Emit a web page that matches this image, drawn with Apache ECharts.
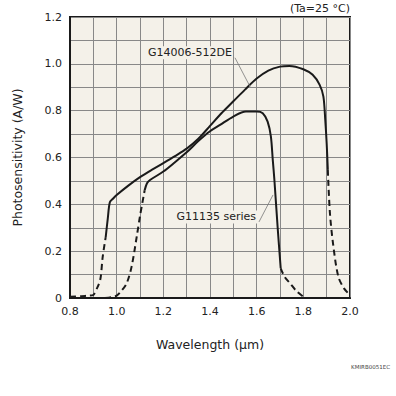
<!DOCTYPE html>
<html>
<head>
<meta charset="utf-8">
<script src="https://cdn.jsdelivr.net/npm/echarts@6/dist/echarts.min.js"></script>
<style>
  html, body { margin: 0; padding: 0; background: #fff; }
  #chart { width: 396px; height: 396px; }
</style>
</head>
<body>
<div id="chart"></div>
<script>
// G14006-512DE: dashed rise, solid body, dashed fall
var wlA_rise = [0.80, 0.85, 0.88, 0.90, 0.915, 0.93, 0.94, 0.953];
var valA_rise = [0.005, 0.008, 0.01, 0.013, 0.04, 0.08, 0.175, 0.26];
var wlA_body = [0.953, 0.962, 0.971, 0.985, 1.0, 1.05, 1.1, 1.15, 1.2, 1.25, 1.3, 1.35, 1.4, 1.45, 1.5, 1.55, 1.6, 1.65, 1.7, 1.74, 1.8, 1.84, 1.87, 1.886, 1.894, 1.9, 1.905];
var valA_body = [0.26, 0.34, 0.41, 0.425, 0.44, 0.48, 0.516, 0.547, 0.576, 0.606, 0.638, 0.68, 0.735, 0.79, 0.84, 0.89, 0.937, 0.971, 0.988, 0.991, 0.977, 0.953, 0.91, 0.86, 0.76, 0.661, 0.547];
var wlA_fall = [1.905, 1.914, 1.929, 1.95, 1.975, 2.0];
var valA_fall = [0.547, 0.362, 0.219, 0.091, 0.04, 0.013];

// G11135 series
var wlB_rise = [0.95, 0.98, 1.0, 1.02, 1.043, 1.064, 1.086, 1.1, 1.12];
var valB_rise = [0.0, 0.004, 0.01, 0.03, 0.063, 0.134, 0.262, 0.35, 0.46];
var wlB_body = [1.12, 1.13, 1.143, 1.2, 1.25, 1.3, 1.35, 1.4, 1.443, 1.5, 1.554, 1.6, 1.626, 1.647, 1.661, 1.669, 1.676, 1.69, 1.703];
var valB_body = [0.46, 0.49, 0.504, 0.54, 0.58, 0.622, 0.67, 0.712, 0.739, 0.775, 0.796, 0.796, 0.789, 0.753, 0.689, 0.59, 0.504, 0.3, 0.127];
var wlB_fall = [1.703, 1.72, 1.743, 1.77, 1.8];
var valB_fall = [0.127, 0.09, 0.063, 0.03, 0.005];

// leader lines for the curve labels
var leaderA = [[1.507, 1.026], [1.572, 0.902]];
var leaderB = [[1.61, 0.325], [1.67, 0.44]];

var ink = '#222';
var font = 'DejaVu Sans';

function pairs(xs, ys) {
  return xs.map(function(x, i) { return [x, ys[i]]; });
}

function curve(xs, ys, dashed) {
  return {
    type: 'line',
    data: pairs(xs, ys),
    showSymbol: false,
    smooth: 0.3,
    lineStyle: { color: '#1a1a1a', width: 2, type: dashed ? [6, 4] : 'solid' },
    silent: true
  };
}

function leader(pts, text) {
  return {
    type: 'line',
    data: [
      { value: pts[0], label: { show: true, formatter: text, position: 'left', distance: 2, offset: [0, -5],
        color: ink, fontFamily: font, fontSize: 11, backgroundColor: '#f4f1e9', padding: [1, 1] } },
      { value: pts[1] }
    ],
    showSymbol: true,
    symbolSize: 0,
    lineStyle: { color: '#777', width: 0.8 },
    silent: true,
    z: 5
  };
}

var chart = echarts.init(document.getElementById('chart'), null, { renderer: 'svg' });
chart.setOption({
  animation: false,
  backgroundColor: '#fff',
  grid: { left: 70, right: 46, top: 17, bottom: 98, show: true, backgroundColor: '#f4f1e9', borderColor: '#1a1a1a', borderWidth: 2 },
  xAxis: {
    type: 'value', min: 0.8, max: 2.0, interval: 0.1,
    name: 'Wavelength (µm)', nameLocation: 'middle', nameGap: 40,
    nameTextStyle: { color: ink, fontFamily: font, fontSize: 12.5 },
    axisLine: { lineStyle: { color: '#1a1a1a', width: 2 } },
    axisTick: { show: false },
    axisLabel: {
      color: ink, fontFamily: font, fontSize: 11, margin: 8,
      formatter: function(v) { return Math.round(v * 10) % 2 === 0 ? v.toFixed(1) : ''; }
    },
    splitLine: { lineStyle: { color: '#888', width: 1 } }
  },
  yAxis: {
    type: 'value', min: 0, max: 1.2, interval: 0.1,
    name: 'Photosensitivity (A/W)', nameLocation: 'middle', nameGap: 46,
    nameTextStyle: { color: ink, fontFamily: font, fontSize: 12.5 },
    axisLine: { lineStyle: { color: '#1a1a1a', width: 2 } },
    axisTick: { show: false },
    axisLabel: {
      color: ink, fontFamily: font, fontSize: 11, margin: 8,
      formatter: function(v) {
        if (v === 0) return '0';
        return Math.round(v * 10) % 2 === 0 ? v.toFixed(1) : '';
      }
    },
    splitLine: { lineStyle: { color: '#888', width: 1 } }
  },
  graphic: [
    { type: 'text', right: 46, top: 3, style: { text: '(Ta=25 °C)', fill: ink, font: '11px "DejaVu Sans"' } },
    { type: 'text', right: 6, top: 364, style: { text: 'KMIRB0051EC', fill: '#444', font: '5.5px "DejaVu Sans"' } }
  ],
  series: [
    curve(wlA_rise, valA_rise, true),
    curve(wlA_body, valA_body, false),
    curve(wlA_fall, valA_fall, true),
    curve(wlB_rise, valB_rise, true),
    curve(wlB_body, valB_body, false),
    curve(wlB_fall, valB_fall, true),
    leader(leaderA, 'G14006-512DE'),
    leader(leaderB, 'G11135 series')
  ]
});
</script>
</body>
</html>
